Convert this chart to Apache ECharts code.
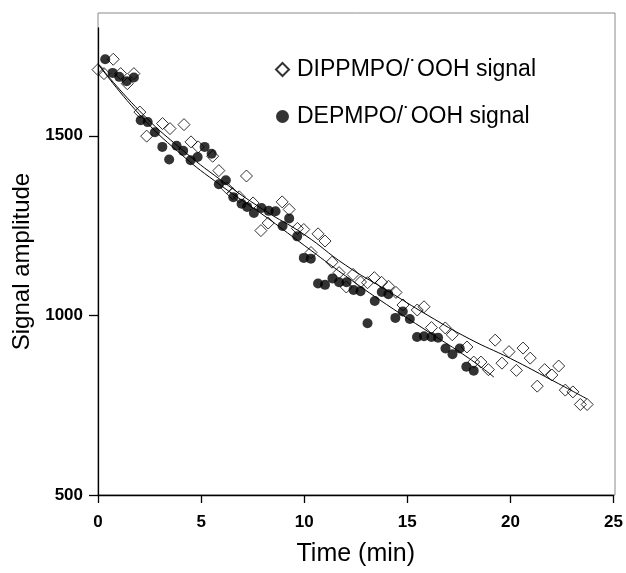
<!DOCTYPE html>
<html>
<head>
<meta charset="utf-8">
<script src="https://cdn.jsdelivr.net/npm/echarts@6/dist/echarts.min.js"></script>
<style>html,body{margin:0;padding:0;background:#fff}#c{width:626px;height:573px}</style>
</head>
<body>
<div id="c"></div>
<script>
// ---- data ----
const seriesNames = ['DIPPMPO/\u02D9OOH signal', 'DEPMPO/\u02D9OOH signal'];
const xTicks = [0, 5, 10, 15, 20, 25];
const yTicks = [500, 1000, 1500];

const dippTime = [0.00,0.29,0.74,1.10,1.42,1.74,2.03,2.36,3.13,3.49,4.17,4.51,4.86,5.56,5.86,6.24,6.53,6.85,7.20,7.52,7.90,8.25,8.93,9.27,9.67,9.98,10.33,10.67,11.01,11.35,11.69,12.04,12.37,12.73,13.07,13.40,13.75,14.09,14.45,14.79,15.48,15.81,16.17,16.84,17.18,17.89,18.22,18.57,18.93,19.26,19.59,19.93,20.29,20.61,20.96,21.30,21.66,22.01,22.34,22.66,23.03,23.39,23.72];
const dippSignal = [1684,1673,1713,1673,1645,1673,1566,1499,1534,1520,1531,1483,1469,1443,1403,1355,1339,1330,1388,1313,1236,1257,1316,1295,1242,1239,1175,1227,1207,1148,1119,1079,1114,1093,1091,1105,1092,1081,1064,1029,1015,1024,966,965,946,912,870,870,849,931,867,899,847,909,881,803,849,834,859,792,787,752,752];

const depTime = [0.35,0.71,1.03,1.39,1.74,2.07,2.41,2.76,3.12,3.45,3.81,4.13,4.49,4.83,5.17,5.51,5.86,6.20,6.56,6.96,7.23,7.56,7.93,8.28,8.61,8.95,9.27,9.66,9.98,10.32,10.67,11.01,11.37,11.69,12.05,12.39,12.73,13.07,13.42,13.76,14.08,14.42,14.78,15.12,15.47,15.81,16.17,16.49,16.85,17.19,17.54,17.86,18.22];
const depSignal = [1713,1675,1664,1652,1662,1543,1538,1510,1469,1434,1472,1458,1432,1441,1469,1450,1365,1376,1329,1311,1302,1285,1299,1291,1290,1249,1270,1220,1160,1158,1089,1085,1103,1092,1092,1071,1067,978,1040,1065,1059,993,1011,990,940,942,940,938,908,892,908,857,846];

// fitted curves
const dippFitTime = [0, 2, 4, 6, 8, 10, 12, 14, 16, 18, 20, 22, 23.7];
const dippFitSignal = [1700, 1570, 1465, 1375, 1295, 1225, 1140, 1070, 1000, 935, 880, 820, 768];
const depFitTime = [0, 2, 4, 6, 8, 10, 12, 14, 16, 18, 19.2];
const depFitSignal = [1700, 1560, 1450, 1360, 1280, 1195, 1110, 1030, 955, 880, 828];

const zip = (a, b) => a.map((v, i) => [v, b[i]]);

const chart = echarts.init(document.getElementById('c'), null, {renderer: 'canvas'});
const font = '"Liberation Sans", Arial, sans-serif';
chart.setOption({
  animation: false,
  backgroundColor: '#fff',
  grid: [
    {left: 98, right: 12, top: 28, bottom: 78},
    {left: 98, right: 11, top: 13, bottom: 78, show: true, borderColor: '#8a8a8a', borderWidth: 1, backgroundColor: 'transparent'}
  ],
  legend: {
    orient: 'vertical', left: 270, top: 53, itemWidth: 13, itemHeight: 13, itemGap: 24,
    data: seriesNames,
    textStyle: {fontFamily: font, fontSize: 23, color: '#000', padding: [0, 0, 0, 3]}
  },
  xAxis: [{
    gridIndex: 0, type: 'value', min: 0, max: 25, interval: 5,
    name: 'Time (min)', nameLocation: 'middle', nameGap: 47,
    nameTextStyle: {fontFamily: font, fontSize: 25, color: '#000'},
    axisLine: {lineStyle: {color: '#000', width: 1.3}},
    axisTick: {inside: false, length: 8, lineStyle: {color: '#000', width: 1.3}, customValues: xTicks},
    axisLabel: {margin: 19, fontFamily: font, fontWeight: 'bold', fontSize: 17, color: '#000', customValues: xTicks},
    splitLine: {show: false}
  }, {
    gridIndex: 1, type: 'value', min: 0, max: 1, show: false
  }],
  yAxis: [{
    gridIndex: 0, type: 'value', min: 500, max: 1800, interval: 500,
    name: 'Signal amplitude', nameLocation: 'middle', nameGap: 54,
    nameTextStyle: {fontFamily: font, fontSize: 24, color: '#000'},
    axisLine: {show: true, lineStyle: {color: '#000', width: 1.3}},
    axisTick: {show: true, inside: false, length: 9, lineStyle: {color: '#000', width: 1.3}, customValues: yTicks},
    axisLabel: {margin: 15, fontFamily: font, fontWeight: 'bold', fontSize: 17, color: '#000', customValues: yTicks,
      formatter: v => (yTicks.indexOf(v) >= 0 ? String(v) : '')},
    splitLine: {show: false}
  }, {
    gridIndex: 1, type: 'value', min: 0, max: 1, show: false
  }],
  series: [
    {
      name: seriesNames[1], type: 'scatter', data: zip(depTime, depSignal),
      symbol: 'circle', symbolSize: 10, itemStyle: {color: '#000'}, z: 3
    },
    {
      name: seriesNames[0], type: 'scatter', data: zip(dippTime, dippSignal),
      symbol: 'diamond', symbolSize: 12,
      itemStyle: {color: 'transparent', borderColor: '#000', borderWidth: 1}, z: 4
    },
    {
      type: 'line', data: zip(dippFitTime, dippFitSignal), smooth: true, symbol: 'none',
      lineStyle: {color: '#000', width: 1}, z: 2
    },
    {
      type: 'line', data: zip(depFitTime, depFitSignal), smooth: true, symbol: 'none',
      lineStyle: {color: '#000', width: 1}, z: 2
    }
  ]
});
</script>
</body>
</html>
